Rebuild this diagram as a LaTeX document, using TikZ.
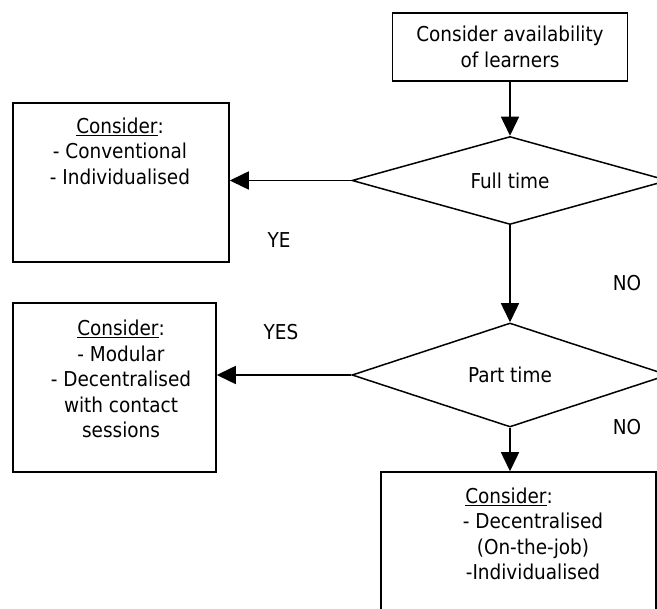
\documentclass[tikz,border=0pt]{standalone}
\usepackage{fontspec}
\setmainfont{DejaVu Sans Condensed}
\usetikzlibrary{shapes.geometric,arrows.meta}
\begin{document}
\begin{tikzpicture}[x=1pt,y=-1pt, line width=1.5pt,
  box/.style={draw, rectangle, inner sep=0pt},
  dec/.style={draw, diamond, inner sep=0pt, aspect=3},
  txt/.style={font=\fontsize{20.5}{25.5}\selectfont, align=center, inner sep=0pt},
  arr/.style={-{Triangle[length=19pt,width=18pt]}}]
\clip (0,0) rectangle (657,609);
\node[box, txt, minimum width=235pt, minimum height=68pt] (top) at (510,47) {Consider availability\\of learners};
\node[dec, txt, minimum width=316pt, minimum height=88pt] (ft) at (510,180.5) {Full time};
\node[dec, txt, minimum width=316pt, minimum height=104pt] (pt) at (510,375) {Part time};
\node[box, minimum width=216pt, minimum height=159pt] (b1) at (121,182.5) {};
\node[txt] (t1) at (120,151) {\underline{Consider}:\\- Conventional\\- Individualised};
\node[box, minimum width=203pt, minimum height=169pt] (b2) at (114.5,387.5) {};
\node[txt] (t2) at (121,379) {\underline{Consider}:\\- Modular\\- Decentralised\\with contact\\sessions};
\node[box, minimum width=275pt, minimum height=200pt] (b3) at (518.5,572) {};
\node[txt] (t3) at (533,534) {\underline{Consider}:\hspace*{48pt}\\- Decentralised\\(On-the-job)\\-Individualised};
\node[txt] (ye) at (279,240) {YE};
\node[txt] (yes) at (281,332) {YES};
\node[txt] (no1) at (627,283) {NO};
\node[txt] (no2) at (627,427) {NO};
\draw[arr] (top.south) -- (ft.north);
\draw[arr] (ft.south) -- (pt.north);
\draw[arr] (pt.south) -- (pt.south |- b3.north);
\draw[arr] (ft.west) -- (ft.west -| b1.east);
\draw[arr] (pt.west) -- (pt.west -| b2.east);
\end{tikzpicture}
\end{document}
